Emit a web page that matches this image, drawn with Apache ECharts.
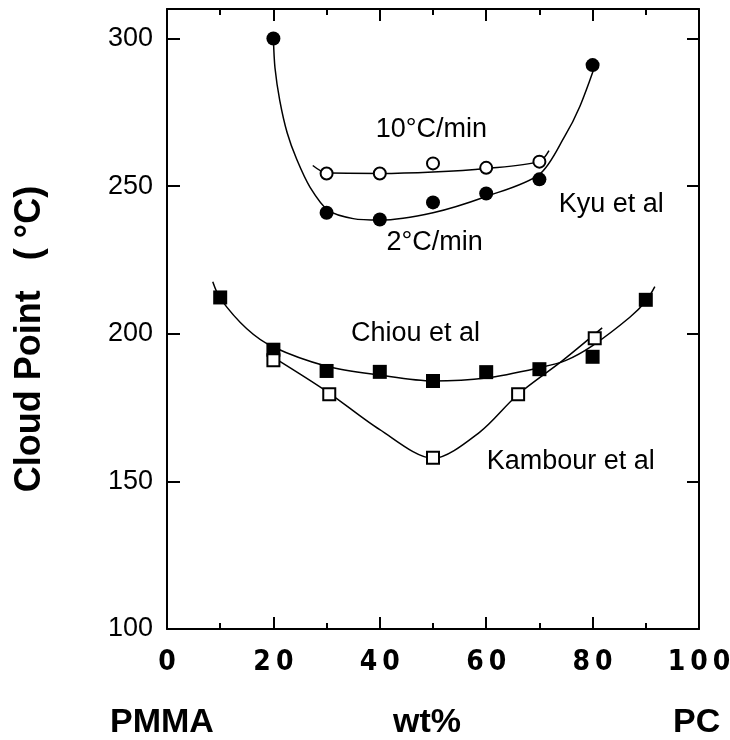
<!DOCTYPE html>
<html>
<head>
<meta charset="utf-8">
<script src="https://cdn.jsdelivr.net/npm/echarts@6/dist/echarts.min.js"></script>
<style>html,body{margin:0;padding:0;background:#fff}#main{width:730px;height:740px}</style>
</head>
<body>
<div id="main"></div>
<script>
// measured points (x = wt% PC, y = cloud point in °C)
const kyu2X = [20, 30, 40, 50, 60, 70, 80];
const kyu2Y = [300, 241, 238.7, 244.5, 247.5, 252.3, 291];
const kyu10X = [30, 40, 50, 60, 70];
const kyu10Y = [254.3, 254.3, 257.7, 256.2, 258.3];
const chiouX = [10, 20, 30, 40, 50, 60, 70, 80, 90];
const chiouY = [212.3, 194.6, 187.4, 187.1, 184, 187, 188, 192.2, 211.5];
const kambourX = [20, 30.5, 50, 66, 80.4];
const kambourY = [191, 179.5, 158, 179.5, 198.5];

// drawn fit curves
const kyu2Fit = [[20, 300], [20.3, 290], [21.2, 279], [22.6, 268], [24.4, 259], [26.9, 249.6], [30.3, 241.8], [35, 239], [40, 238.5], [50, 241], [60, 246.5], [70, 254], [74.8, 267], [77.6, 277], [80.5, 291]];
const kyu10Fit = [[27.4, 257], [30, 254.5], [40, 254.3], [50, 254.8], [60, 256], [70, 258.3], [71.8, 262]];
const chiouFit = [[8.6, 217.6], [10, 212], [15, 201.7], [20, 195.5], [30, 189], [40, 186], [50, 184], [60, 185], [70, 188.5], [75, 191], [80, 196], [87, 205.6], [90, 211], [91.7, 216]];
const kambourFit = [[20, 192], [30, 180.5], [40, 167.5], [50, 157.8], [58.8, 166.7], [66, 179.5], [74.4, 191], [81.8, 202]];

// in-plot notes
const noteText = ['10°C/min', '2°C/min', 'Kyu et al', 'Chiou et al', 'Kambour et al'];
const noteX = [49.8, 50.4, 83.6, 46.8, 76];
const noteY = [268.9, 230.6, 243.5, 199.8, 156.5];

const xTicks = [0, 20, 40, 60, 80, 100];
const yTicks = [100, 150, 200, 250, 300];

const zip = (xs, ys) => xs.map((x, i) => [x, ys[i]]);
const black = '#000';
const frameLine = { show: true, onZero: false, lineStyle: { color: black, width: 2 } };

const myChart = echarts.init(document.getElementById('main'));

const fitLine = (data) => ({
  type: 'line', data, smooth: 0.3, showSymbol: false, silent: true,
  lineStyle: { color: black, width: 1.5 }, z: 2
});
const marks = (data, symbol, filled, size) => ({
  type: 'scatter', data, symbol, symbolSize: size, z: 5,
  itemStyle: { color: filled ? black : '#fff', borderColor: black, borderWidth: filled ? 0 : 2, opacity: 1 }
});

const option = {
  backgroundColor: '#fff',
  animation: false,
  grid: { left: 167, right: 31, top: 9, bottom: 111, outerBoundsMode: 'none', containLabel: false },
  xAxis: [
    {
      type: 'value', position: 'bottom', min: 0, max: 100, interval: 20,
      axisLine: frameLine,
      axisTick: { inside: true, length: 12, lineStyle: { color: black, width: 2 } },
      minorTick: { show: true, splitNumber: 2, length: 6, lineStyle: { color: black, width: 2 } },
      splitLine: { show: false },
      axisLabel: {
        margin: 20, color: black, fontSize: 28, fontWeight: 'bold',
        fontFamily: '"Liberation Sans Narrow", "DejaVu Sans Condensed", sans-serif',
        formatter: v => xTicks.includes(v) ? String(v).split('').join('\u2009') : ''
      }
    },
    {
      type: 'value', position: 'top', min: 0, max: 100, interval: 20,
      axisLine: frameLine,
      axisTick: { inside: true, length: 12, lineStyle: { color: black, width: 2 } },
      minorTick: { show: true, splitNumber: 2, length: 6, lineStyle: { color: black, width: 2 } },
      splitLine: { show: false }, axisLabel: { show: false }
    }
  ],
  yAxis: [
    {
      type: 'value', position: 'left', min: 100, max: 310, interval: 50,
      axisLine: frameLine,
      axisTick: { inside: true, length: 13, lineStyle: { color: black, width: 2 } },
      splitLine: { show: false },
      axisLabel: {
        margin: 14, color: black, fontSize: 27, fontFamily: '"Liberation Sans", Arial, sans-serif',
        showMaxLabel: false,
        formatter: v => yTicks.includes(v) ? String(v) : ''
      },
      name: 'Cloud Point   ( °C)', nameLocation: 'middle', nameGap: 119,
      nameTextStyle: {
        color: black, fontSize: 36, fontWeight: 'bold', fontFamily: '"Liberation Sans", Arial, sans-serif',
        padding: [0, 40, 0, 0]
      }
    },
    {
      type: 'value', position: 'right', min: 100, max: 310, interval: 50,
      axisLine: frameLine,
      axisTick: { inside: true, length: 12, lineStyle: { color: black, width: 2 } },
      splitLine: { show: false }, axisLabel: { show: false }
    }
  ],
  graphic: [
    { type: 'text', left: 110, top: 706, style: { text: 'PMMA', fill: black, font: 'bold 34px "Liberation Sans", Arial' } },
    { type: 'text', left: 393, top: 706, style: { text: 'wt%', fill: black, font: 'bold 34px "Liberation Sans", Arial' } },
    { type: 'text', left: 673, top: 706, style: { text: 'PC', fill: black, font: 'bold 34px "Liberation Sans", Arial' } }
  ],
  series: [
    fitLine(kyu2Fit),
    fitLine(kyu10Fit),
    fitLine(chiouFit),
    fitLine(kambourFit),
    marks(zip(kyu2X, kyu2Y), 'circle', true, 14),
    marks(zip(kyu10X, kyu10Y), 'circle', false, 12),
    marks(zip(chiouX, chiouY), 'rect', true, 14),
    marks(zip(kambourX, kambourY), 'rect', false, 12),
    {
      type: 'scatter', symbolSize: 1, silent: true, z: 6,
      itemStyle: { opacity: 0 },
      data: noteText.map((t, i) => ({ name: t, value: [noteX[i], noteY[i]] })),
      label: {
        show: true, position: [0, 0], align: 'center', verticalAlign: 'middle',
        formatter: p => p.name, opacity: 1,
        color: '#000', fontSize: 27, fontFamily: '"Liberation Sans", Arial, sans-serif'
      }
    }
  ]
};
option && myChart.setOption(option);
</script>
</body>
</html>
